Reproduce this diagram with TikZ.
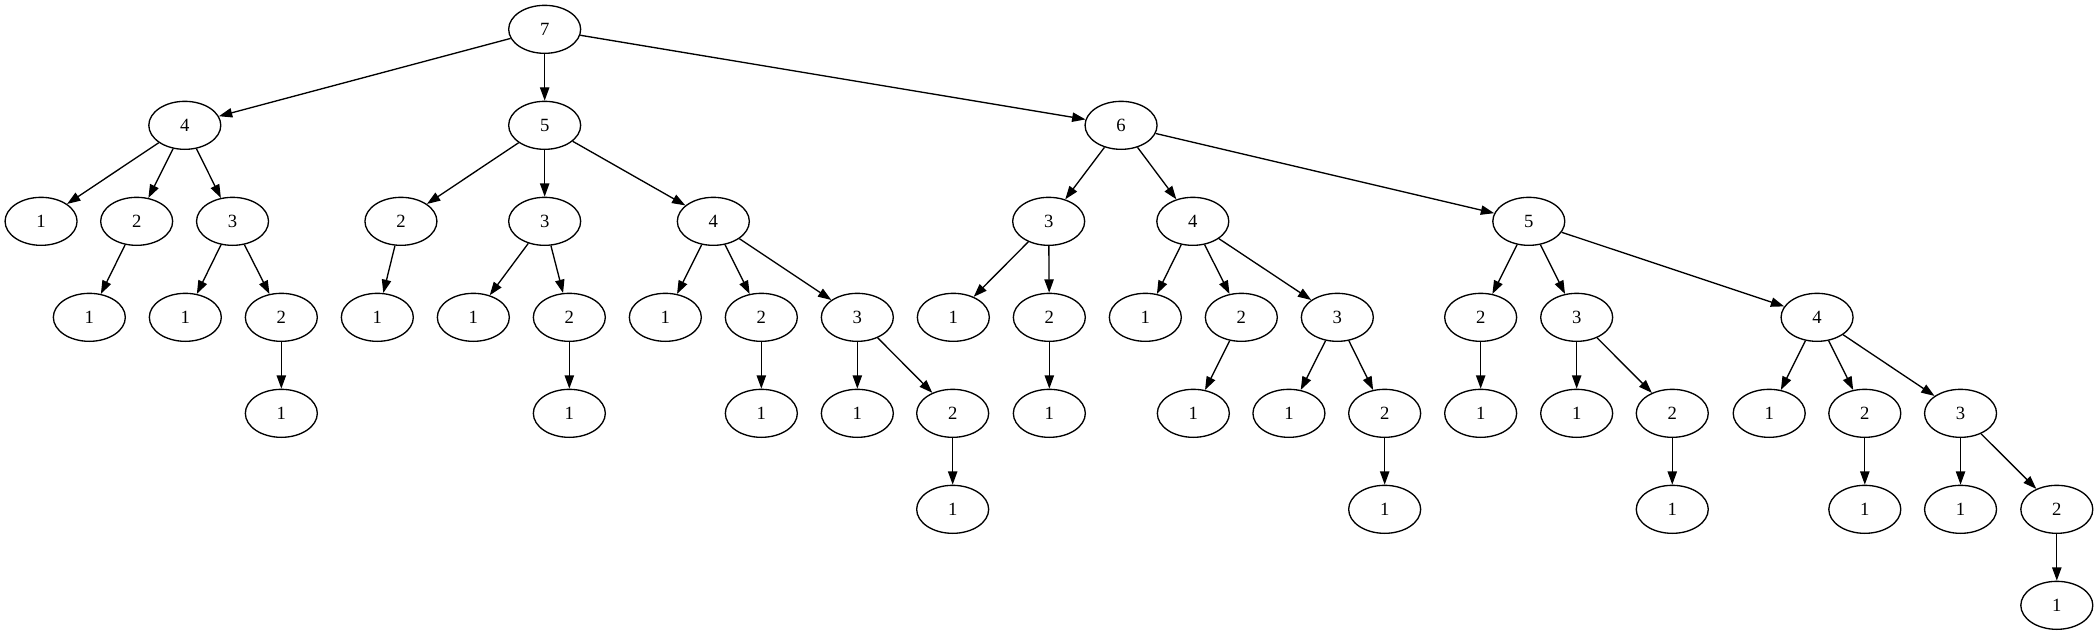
\documentclass[tikz,border=0pt]{standalone}
\usepackage{fontspec}
\setmainfont{Liberation Serif}
\usetikzlibrary{shapes.geometric,arrows.meta}
\tikzset{
  tnode/.style={ellipse,draw,line width=1pt,minimum width=54pt,minimum height=36pt,inner sep=0pt,font=\fontsize{14}{16}\selectfont},
  tedge/.style={line width=1pt,-{Triangle[length=10pt,width=7pt]}}
}
\begin{document}
\begin{tikzpicture}[x=1pt,y=-1pt]
\useasboundingbox (0,0) rectangle (1574.25,476.25);
% rank 0
\node[tnode] (r) at (408.5,22) {7};
% rank 1
\node[tnode] (r1) at (138.6,94) {4};
\node[tnode] (r2) at (408.5,94) {5};
\node[tnode] (r3) at (840.8,94) {6};
% rank 2
\node[tnode] (r1a) at (30.8,166) {1};
\node[tnode] (r1b) at (102.5,166) {2};
\node[tnode] (r1c) at (174.4,166) {3};
\node[tnode] (r2a) at (300.7,166) {2};
\node[tnode] (r2b) at (408.5,166) {3};
\node[tnode] (r2c) at (535,166) {4};
\node[tnode] (r3a) at (786.5,166) {3};
\node[tnode] (r3b) at (894.6,166) {4};
\node[tnode] (r3c) at (1146.6,166) {5};
% rank 3
\node[tnode] (r1ba) at (67,238) {1};
\node[tnode] (r1ca) at (139,238) {1};
\node[tnode] (r1cb) at (211,238) {2};
\node[tnode] (r2aa) at (283,238) {1};
\node[tnode] (r2ba) at (355,238) {1};
\node[tnode] (r2bb) at (427,238) {2};
\node[tnode] (r2ca) at (499,238) {1};
\node[tnode] (r2cb) at (571,238) {2};
\node[tnode] (r2cc) at (643,238) {3};
\node[tnode] (r3aa) at (715,238) {1};
\node[tnode] (r3ab) at (787,238) {2};
\node[tnode] (r3ba) at (859,238) {1};
\node[tnode] (r3bb) at (931,238) {2};
\node[tnode] (r3bc) at (1003,238) {3};
\node[tnode] (r3ca) at (1110.5,238) {2};
\node[tnode] (r3cb) at (1182.5,238) {3};
\node[tnode] (r3cc) at (1362.8,238) {4};
% rank 4
\node[tnode] (r1cba) at (211,310) {1};
\node[tnode] (r2bba) at (427,310) {1};
\node[tnode] (r2cba) at (571,310) {1};
\node[tnode] (r2cca) at (643,310) {1};
\node[tnode] (r2ccb) at (714.5,310) {2};
\node[tnode] (r3aba) at (787,310) {1};
\node[tnode] (r3bba) at (895,310) {1};
\node[tnode] (r3bca) at (966.7,310) {1};
\node[tnode] (r3bcb) at (1038.5,310) {2};
\node[tnode] (r3caa) at (1110.5,310) {1};
\node[tnode] (r3cba) at (1182.5,310) {1};
\node[tnode] (r3cbb) at (1254.2,310) {2};
\node[tnode] (r3cca) at (1326.9,310) {1};
\node[tnode] (r3ccb) at (1398.6,310) {2};
\node[tnode] (r3ccc) at (1470.4,310) {3};
% rank 5
\node[tnode] (r2ccba) at (714.5,382) {1};
\node[tnode] (r3bcba) at (1038.5,382) {1};
\node[tnode] (r3cbba) at (1254.2,382) {1};
\node[tnode] (r3ccba) at (1398.6,382) {1};
\node[tnode] (r3ccca) at (1470.4,382) {1};
\node[tnode] (r3cccb) at (1542.6,382) {2};
% rank 6
\node[tnode] (r3cccba) at (1542.6,454) {1};
% edges
\foreach \p/\c in {r/r1,r/r2,r/r3,
  r1/r1a,r1/r1b,r1/r1c,r1b/r1ba,r1c/r1ca,r1c/r1cb,r1cb/r1cba,
  r2/r2a,r2/r2b,r2/r2c,r2a/r2aa,r2b/r2ba,r2b/r2bb,r2bb/r2bba,
  r2c/r2ca,r2c/r2cb,r2c/r2cc,r2cb/r2cba,r2cc/r2cca,r2cc/r2ccb,r2ccb/r2ccba,
  r3/r3a,r3/r3b,r3/r3c,r3a/r3aa,r3a/r3ab,r3ab/r3aba,
  r3b/r3ba,r3b/r3bb,r3b/r3bc,r3bb/r3bba,r3bc/r3bca,r3bc/r3bcb,r3bcb/r3bcba,
  r3c/r3ca,r3c/r3cb,r3c/r3cc,r3ca/r3caa,r3cb/r3cba,r3cb/r3cbb,r3cbb/r3cbba,
  r3cc/r3cca,r3cc/r3ccb,r3cc/r3ccc,r3ccb/r3ccba,r3ccc/r3ccca,r3ccc/r3cccb,r3cccb/r3cccba}
  \draw[tedge] (\p) -- (\c);
\end{tikzpicture}
\end{document}
